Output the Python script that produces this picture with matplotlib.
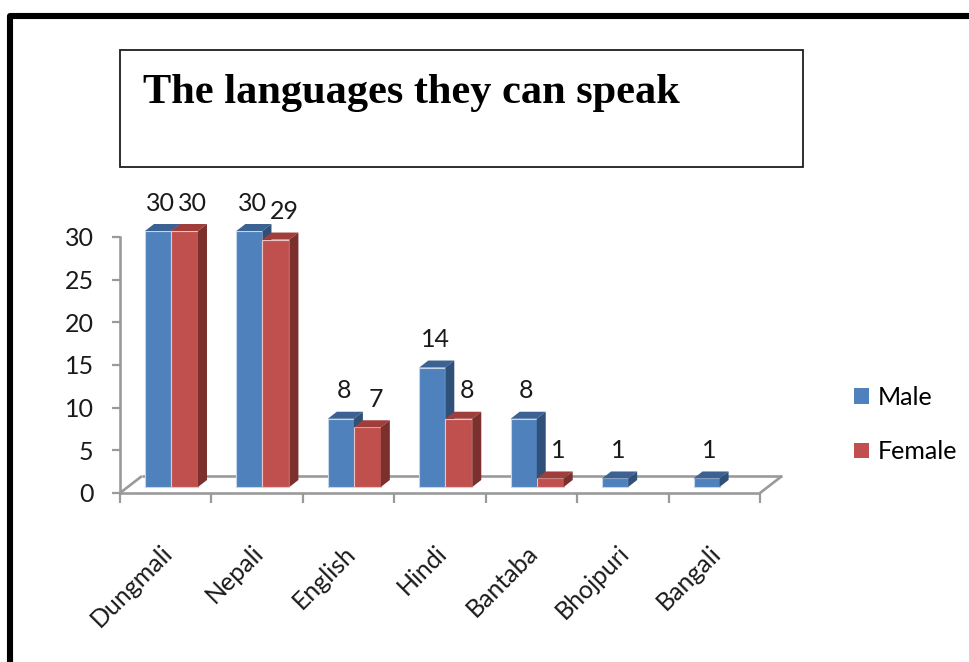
import matplotlib
matplotlib.use("Agg")
import matplotlib.pyplot as plt
from matplotlib.patches import Polygon, Rectangle
from matplotlib.lines import Line2D

# ---- data -------------------------------------------------------------
languages = ["Dungmali", "Nepali", "English", "Hindi", "Bantaba", "Bhojpuri", "Bangali"]
male = [30, 30, 8, 14, 8, 1, 1]
female = [30, 29, 7, 8, 1, 0, 0]
series_names = ["Male", "Female"]
y_ticks = [0, 5, 10, 15, 20, 25, 30]
title = "The languages they can speak"

# ---- styling ----------------------------------------------------------
FONT = ["Lato", "DejaVu Sans"]
FS = 18
AXIS_GREY = "#9a9a9a"
blue = dict(face="#4F81BD", top="#3B6293", side="#2F5079", edge="#C6D6EA")
red = dict(face="#C0504D", top="#9F3E3B", side="#7C302E", edge="#EBC4C3")

W, H = 969, 662
fig = plt.figure(figsize=(W / 100, H / 100), dpi=100)
fig.patch.set_facecolor("white")

# plot area: x in category units, y in value units
ax = fig.add_axes([120 / W, (H - 493) / H, 640 / W, 256 / H])
n = len(languages)
ax.set_xlim(-0.5, n - 0.5)
ax.set_ylim(0, 30)
ax.set_facecolor("none")

px_x = 640 / n          # pixels per category
px_y = 256 / 30         # pixels per value unit

# 3-D look parameters (in data units)
floor_dx, floor_dy = 22 / px_x, 17 / px_y
bar_dx, bar_dy = 9 / px_x, 7 / px_y
base = 6 / px_y
male_left, split, female_right = -0.227, 0.058, 0.353

for s in ["top", "right", "bottom"]:
    ax.spines[s].set_visible(False)
ax.spines["left"].set_color(AXIS_GREY)
ax.spines["left"].set_linewidth(1.9)
ax.set_yticks(y_ticks)
ax.set_yticklabels([str(t) for t in y_ticks], fontsize=FS, family=FONT, color="#1a1a1a")
ax.tick_params(axis="y", length=6, width=1.6, color=AXIS_GREY, pad=13)
ax.set_xticks([i - 0.5 for i in range(n + 1)])
ax.set_xticklabels([])
ax.tick_params(axis="x", length=7, width=1.6, color=AXIS_GREY)

# floor outline
floor_kw = dict(color=AXIS_GREY, lw=1.9, clip_on=False, zorder=1, solid_capstyle="butt")
ax.plot([-0.5, n - 0.5], [0, 0], **floor_kw)
ax.plot([-0.5 + floor_dx, n - 0.5 + floor_dx], [floor_dy, floor_dy], **floor_kw)
ax.plot([-0.5, -0.5 + floor_dx], [0, floor_dy], **floor_kw)
ax.plot([n - 0.5, n - 0.5 + floor_dx], [0, floor_dy], **floor_kw)

z = [3]


def bar3d(x0, x1, v, c):
    y0, y1 = base, base + v
    ax.bar(x0, v, width=x1 - x0, bottom=y0, align="edge", color=c["face"],
           edgecolor=c["edge"], linewidth=0.8, clip_on=False, zorder=z[0])
    ax.add_patch(Polygon([(x0, y1), (x1, y1), (x1 + bar_dx, y1 + bar_dy), (x0 + bar_dx, y1 + bar_dy)],
                         closed=True, fc=c["top"], ec="none", clip_on=False, zorder=z[0] + 1))
    ax.add_patch(Polygon([(x1, y0), (x1 + bar_dx, y0 + bar_dy), (x1 + bar_dx, y1 + bar_dy), (x1, y1)],
                         closed=True, fc=c["side"], ec="none", clip_on=False, zorder=z[0] + 1))
    z[0] += 2


def value_label(xc, v):
    ax.text(xc, base + v + 2.4, str(v), ha="center", va="baseline",
            fontsize=FS, family=FONT, color="#1a1a1a", clip_on=False, zorder=50)


for i in range(n):
    if male[i] > 0:
        bar3d(i + male_left, i + split, male[i], blue)
        value_label(i + (male_left + split) / 2 + 0.03, male[i])
    if female[i] > 0:
        bar3d(i + split, i + female_right, female[i], red)
        value_label(i + (split + female_right) / 2 + 0.09, female[i])

# rotated category names
for i, name in enumerate(languages):
    ax.text(i + 0.03, -6.6, name, rotation=45, rotation_mode="anchor",
            ha="right", va="center", fontsize=FS, family=FONT, color="#1a1a1a",
            clip_on=False)

# legend
handles = [Rectangle((0, 0), 1, 1, fc=blue["face"], ec="none"),
           Rectangle((0, 0), 1, 1, fc=red["face"], ec="none")]
fig.legend(handles, series_names, loc="upper left",
           bbox_to_anchor=(854 / W, (H - 386) / H), frameon=False,
           prop=dict(family=FONT, size=FS), handlelength=0.6, handleheight=0.6,
           handletextpad=0.35, labelspacing=1.25, borderpad=0, borderaxespad=0)

# title box
fig.add_artist(Rectangle((120 / W, (H - 167) / H), 683 / W, 117 / H,
                         transform=fig.transFigure, fill=False, ec="#1e1e1e", lw=1.3))
fig.text(143 / W, (H - 103) / H, title, family=["Liberation Serif", "DejaVu Serif"],
         fontweight="bold", fontsize=30.5, ha="left", va="baseline", color="black")

# outer frame (top and left edges)
fig.add_artist(Line2D([10 / W, 10 / W, 1.02], [-0.02, (H - 16) / H, (H - 16) / H],
                      transform=fig.transFigure, color="black", lw=4.4,
                      solid_joinstyle="round"))

fig.savefig("out.png", dpi=100)
